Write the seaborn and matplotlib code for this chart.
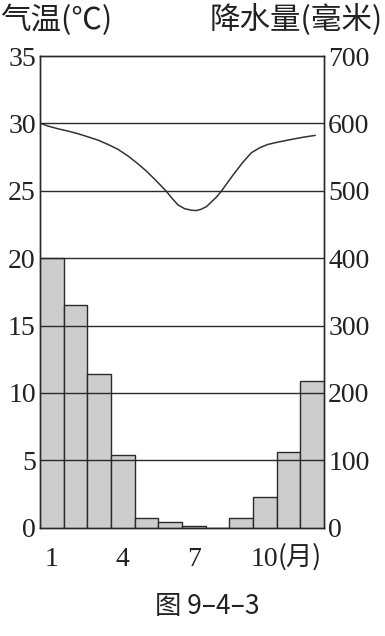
import matplotlib
matplotlib.use("Agg")
import matplotlib.pyplot as plt
import seaborn as sns
import pandas as pd

months = [1, 2, 3, 4, 5, 6, 7, 8, 9, 10, 11, 12]
precip = [400, 330, 228, 108, 15, 9, 3, 0, 15, 46, 113, 218]
# temperature curve (x in month units)
temp_x = [0.53, 0.84, 1.26, 1.68, 2.11, 2.53, 2.95, 3.37, 3.80, 4.22, 4.64,
          4.99, 5.35, 5.62, 5.84, 6.05, 6.33, 6.61, 6.89, 7.10, 7.31, 7.53,
          7.74, 7.95, 8.16, 8.44, 8.73, 9.08, 9.43, 9.78, 10.13, 10.55,
          11.12, 11.68, 12.13]
temp_y = [30.0, 29.8, 29.6, 29.43, 29.23, 29.0, 28.76, 28.44, 28.07, 27.58,
          27.0, 26.47, 25.85, 25.36, 24.96, 24.5, 23.95, 23.67, 23.56, 23.53,
          23.63, 23.82, 24.17, 24.52, 24.96, 25.65, 26.34, 27.13, 27.82,
          28.19, 28.44, 28.61, 28.81, 28.99, 29.11]
temp_ticks = [0, 5, 10, 15, 20, 25, 30, 35]
precip_ticks = [0, 100, 200, 300, 400, 500, 600, 700]
month_ticks = [1, 4, 7, 10]
month_labels = ["1", "4", "7", "10"]

sns.set_style("white")
plt.rcParams['font.family'] = ['Liberation Serif', 'DejaVu Serif']
SERIF = ['Liberation Serif', 'DejaVu Serif']
CJK = ['Noto Sans CJK SC', 'DejaVu Sans']

fig = plt.figure(figsize=(3.85, 6.36), dpi=100)
ax = fig.add_axes([40/385, 1-527.7/636, 284/385, 471.7/636])
ax2 = ax.twinx()

dfp = pd.DataFrame({"month": months, "precip": precip})
sns.barplot(data=dfp, x="month", y="precip", native_scale=True, width=1,
            color="#cdcdcd", saturation=1, edgecolor="#2a2a2a", linewidth=1.0,
            ax=ax2, zorder=2)
for v in precip_ticks[1:-1]:
    ax2.axhline(v, color="#2a2a2a", lw=1.0, zorder=3)

dft = pd.DataFrame({"x": temp_x, "t": temp_y})
sns.lineplot(data=dft, x="x", y="t", sort=False, color="#333333", lw=1.1, ax=ax)

ax.set_xlim(0.5, 12.5)
ax2.set_xlim(0.5, 12.5)
ax.set_ylim(0, 35)
ax2.set_ylim(0, 700)
ax.set_yticks(temp_ticks)
ax.set_yticklabels([str(t) for t in temp_ticks], fontfamily=SERIF)
ax2.set_yticks(precip_ticks)
ax2.set_yticklabels([str(p) for p in precip_ticks], fontfamily=SERIF)
ax.set_xticks(month_ticks)
ax.set_xticklabels(month_labels, fontfamily=SERIF)
for a in (ax, ax2):
    a.set_xlabel("")
    a.set_ylabel("")
    a.grid(False)

ax.tick_params(axis="y", length=0, pad=3, labelsize=20, colors="#222222")
ax2.tick_params(axis="y", length=0, pad=3, labelsize=20, colors="#222222")
ax.tick_params(axis="x", length=0, pad=14, labelsize=20, colors="#222222")
for a in (ax, ax2):
    for s in a.spines.values():
        s.set_color("#2a2a2a")
        s.set_linewidth(1.0)

fig.text(278/385, 1-557/636, "(月)", fontsize=19, va="center", ha="left",
         color="#222222", family=CJK)
fig.text(0/385, 1-20/636, "气温(℃)", fontsize=22, va="center", ha="left",
         color="#222222", family=CJK)
fig.text(383/385, 1-20/636, "降水量(毫米)", fontsize=22, va="center", ha="right",
         color="#222222", family=CJK)
fig.text(207/385, 1-607/636, "图 9–4–3", fontsize=19, va="center", ha="center",
         color="#222222", family=CJK)

fig.savefig("out.png", dpi=100)
